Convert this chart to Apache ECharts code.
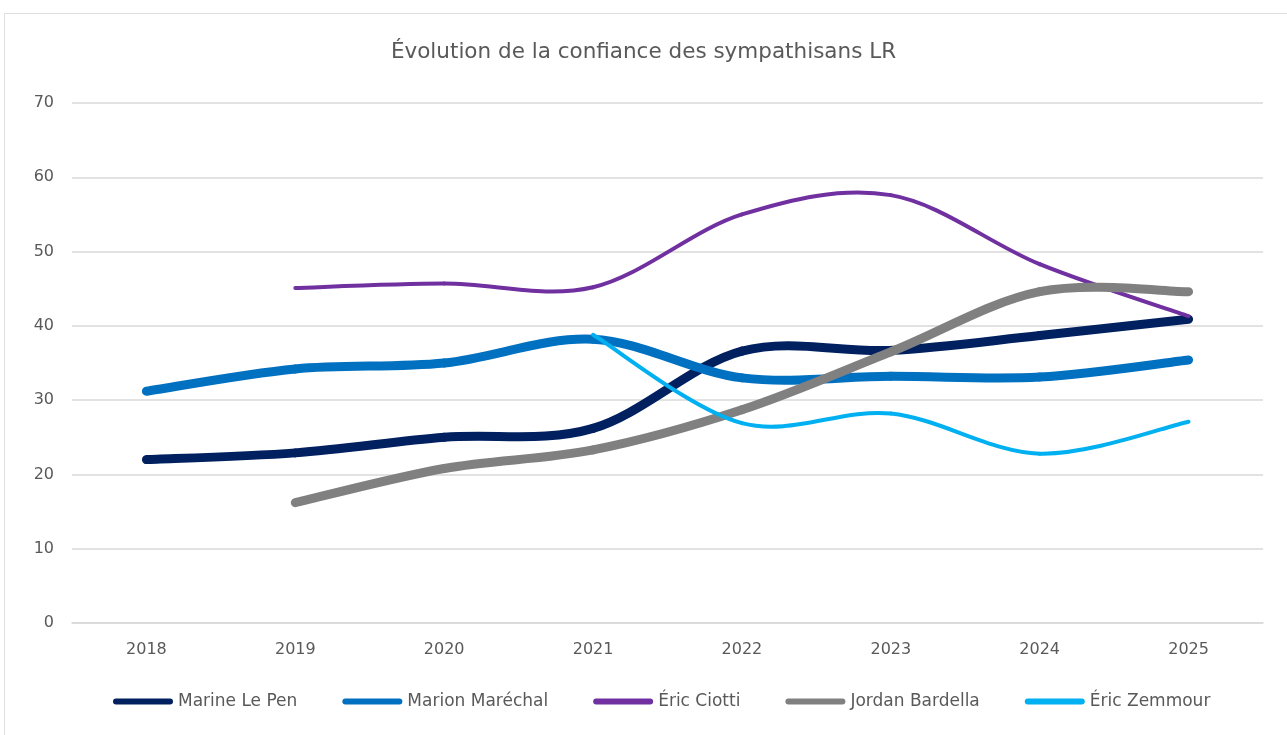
<!DOCTYPE html>
<html>
<head>
<meta charset="utf-8">
<script src="https://cdn.jsdelivr.net/npm/echarts@6/dist/echarts.min.js"></script>
<style>
html,body{margin:0;padding:0;background:#fff;}
#frame{position:absolute;left:4px;top:13px;width:1300px;height:740px;border:1.5px solid #e0e0e0;box-sizing:border-box;}
#chart{position:absolute;left:0;top:0;width:1287px;height:735px;}
</style>
</head>
<body>
<div id="frame"></div>
<div id="chart"></div>
<script>
const years = ['2018','2019','2020','2021','2022','2023','2024','2025'];
const yTicks = [0,10,20,30,40,50,60,70];
const marineLePen   = [22.0, 22.9, 25.0, 26.2, 36.6, 36.7, 38.7, 40.9];
const marionMarechal= [31.2, 34.2, 35.0, 38.2, 33.0, 33.2, 33.1, 35.4];
const ericCiotti    = [null, 45.1, 45.7, 45.2, 55.0, 57.6, 48.3, 41.3];
const jordanBardella= [null, 16.2, 20.8, 23.3, 28.7, 36.5, 44.6, 44.6];
const ericZemmour   = [null, null, null, 38.8, 26.9, 28.2, 22.8, 27.1];

const names = ['Marine Le Pen','Marion Maréchal','Éric Ciotti','Jordan Bardella','Éric Zemmour'];
const datas = [marineLePen, marionMarechal, ericCiotti, jordanBardella, ericZemmour];
const colors = ['#002060','#0070C0','#7030A0','#808080','#00B0F0'];
const widths = [9, 9, 4, 9, 4];

// Excel-like smoothed line (Catmull-Rom style Bezier through the points)
function smoothSeries(name, arr, color, width){
  const pts = [];
  arr.forEach((v,i)=>{ if(v!==null && v!==undefined) pts.push([i, v]); });
  return {
    name, type:'custom', coordinateSystem:'cartesian2d',
    data: pts, encode:{x:0, y:1}, clip:false,
    itemStyle:{color},
    renderItem:(params, api)=>{
      const k = params.dataIndex;
      if (k >= pts.length - 1) return null;
      const P = pts.map(p => api.coord(p));
      const p0 = P[k-1] || P[k], p1 = P[k], p2 = P[k+1], p3 = P[k+2] || P[k+1];
      const t = 1/6;
      return {
        type:'bezierCurve', silent:true,
        shape:{
          x1:p1[0], y1:p1[1], x2:p2[0], y2:p2[1],
          cpx1:p1[0] + (p2[0]-p0[0])*t, cpy1:p1[1] + (p2[1]-p0[1])*t,
          cpx2:p2[0] - (p3[0]-p1[0])*t, cpy2:p2[1] - (p3[1]-p1[1])*t
        },
        style:{stroke:color, lineWidth:width, fill:'none', lineCap:'round', lineJoin:'round'}
      };
    }
  };
}

const chart = echarts.init(document.getElementById('chart'), null, {renderer:'canvas'});
const capsule = 'path://M3,0 H57 A3,3 0 0 1 57,6 H3 A3,3 0 0 1 3,0 Z';
chart.setOption({
  animation:false,
  color: colors,
  backgroundColor:'transparent',
  title:{
    text:'Évolution de la confiance des sympathisans LR',
    left:'center', top:36,
    textStyle:{fontFamily:'DejaVu Sans', fontWeight:'normal', fontSize:21.5, color:'#595959'}
  },
  legend:{
    bottom:20, left:108,
    data:names,
    icon:capsule,
    itemWidth:60, itemHeight:7, itemGap:45,
    textStyle:{fontFamily:'DejaVu Sans', fontSize:17, color:'#595959'}
  },
  grid:{left:72, right:24, top:103, bottom:112},
  xAxis:{
    type:'category', data:years, boundaryGap:true,
    axisLine:{show:true, lineStyle:{color:'#d9d9d9', width:1.5}},
    axisTick:{show:false},
    axisLabel:{margin:19, fontFamily:'DejaVu Sans', fontSize:16, color:'#595959'}
  },
  yAxis:{
    type:'value', min:0, max:70, interval:10,
    axisLine:{show:false}, axisTick:{show:false},
    splitLine:{lineStyle:{color:'#d9d9d9', width:1.5}},
    axisLabel:{margin:18, fontFamily:'DejaVu Sans', fontSize:16, color:'#595959',
      formatter:(v)=> yTicks.includes(v) ? String(v) : ''}
  },
  series: names.map((n,i)=> smoothSeries(n, datas[i], colors[i], widths[i]))
});
</script>
</body>
</html>
